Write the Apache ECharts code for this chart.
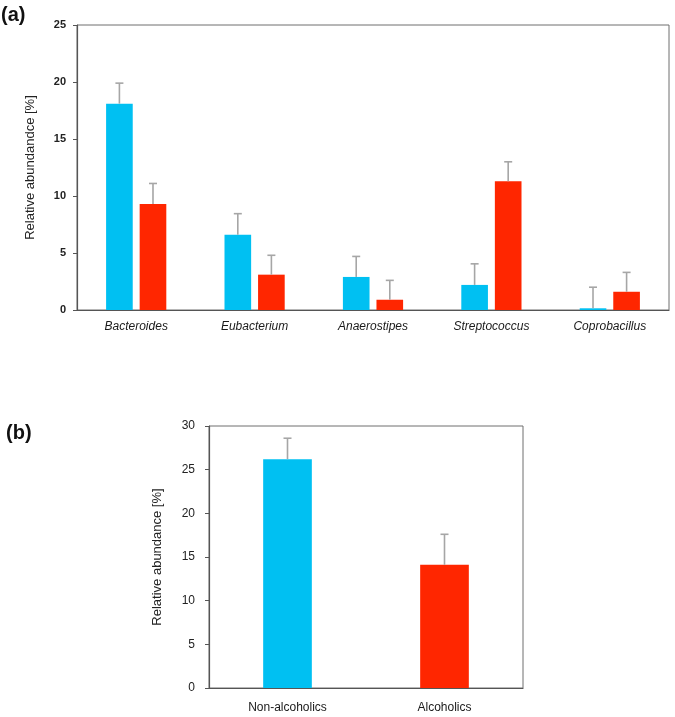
<!DOCTYPE html>
<html>
<head>
<meta charset="utf-8">
<script src="https://cdn.jsdelivr.net/npm/echarts@6/dist/echarts.min.js"></script>
<style>html,body{margin:0;padding:0;background:#fff}#c{width:675px;height:717px}</style>
</head>
<body>
<div id="c"></div>
<script>
// Panel (a)
const genera = ['Bacteroides', 'Eubacterium', 'Anaerostipes', 'Streptococcus', 'Coprobacillus'];
const nonAlcA = [18.1, 6.6, 2.9, 2.2, 0.15];
const nonAlcAErr = [1.8, 1.85, 1.8, 1.85, 1.85];
const alcA = [9.3, 3.1, 0.9, 11.3, 1.6];
const alcAErr = [1.8, 1.7, 1.7, 1.7, 1.7];
const yTicksA = [0, 5, 10, 15, 20, 25];
// Panel (b)
const groupsB = ['Non-alcoholics', 'Alcoholics'];
const valuesB = [26.2, 14.1];
const errB = [2.4, 3.5];
const yTicksB = [0, 5, 10, 15, 20, 25, 30];

const BLUE = '#00c0f2';
const RED = '#ff2600';
const FONT = 'Liberation Sans, Arial, sans-serif';

function errSeries(xi, yi, vals, errs, offsetFrac) {
  return {
    type: 'custom',
    xAxisIndex: xi, yAxisIndex: yi,
    z: 5,
    data: vals.map((v, i) => [i, v, errs[i]]),
    encode: { x: 0, y: 1 },
    renderItem: function (params, api) {
      const i = api.value(0), v = api.value(1), e = api.value(2);
      const band = api.size([1, 0])[0];
      const base = api.coord([i, v]);
      const top = api.coord([i, v + e]);
      const x = base[0] + offsetFrac * band;
      const style = { stroke: '#a6a6a6', lineWidth: 1.6 };
      return {
        type: 'group',
        children: [
          { type: 'line', shape: { x1: x, y1: base[1], x2: x, y2: top[1] }, style: style },
          { type: 'line', shape: { x1: x - 4, y1: top[1], x2: x + 4, y2: top[1] }, style: style }
        ]
      };
    }
  };
}

const chart = echarts.init(document.getElementById('c'), null, { renderer: 'canvas' });
const yA = yTicksA[yTicksA.length - 1];
const yB = yTicksB[yTicksB.length - 1];
const option = {
  animation: false,
  textStyle: { fontFamily: FONT },
  graphic: [
    { type: 'text', left: 1, top: 5, style: { text: '(a)', font: 'bold 20px ' + FONT, fill: '#111' } },
    { type: 'text', left: 6, top: 423, style: { text: '(b)', font: 'bold 20px ' + FONT, fill: '#111' } }
  ],
  grid: [
    { left: 77, top: 25, width: 592, height: 285, show: true, borderColor: '#6e6e6e', borderWidth: 1 },
    { left: 209, top: 426, width: 314, height: 262, show: true, borderColor: '#6e6e6e', borderWidth: 1 }
  ],
  xAxis: [
    {
      type: 'category', gridIndex: 0, data: genera,
      axisTick: { show: false },
      axisLine: { lineStyle: { color: '#555', width: 1.2 } },
      axisLabel: { fontStyle: 'italic', fontSize: 12, color: '#1a1a1a', margin: 11, fontFamily: FONT }
    },
    {
      type: 'category', gridIndex: 1, data: groupsB,
      axisTick: { show: false },
      axisLine: { lineStyle: { color: '#555', width: 1.2 } },
      axisLabel: { fontSize: 12, color: '#1a1a1a', margin: 14, fontFamily: FONT }
    }
  ],
  yAxis: [
    {
      type: 'value', gridIndex: 0, min: 0, max: yA, interval: 5,
      splitLine: { show: false },
      axisLine: { show: true, lineStyle: { color: '#555', width: 1.2 } },
      axisTick: { show: true, length: 4, lineStyle: { color: '#555' } },
      axisLabel: { fontSize: 11, fontWeight: 'bold', color: '#222', margin: 11, fontFamily: FONT },
      name: 'Relative abundandce [%]', nameLocation: 'middle', nameGap: 40,
      nameTextStyle: { fontSize: 13, color: '#222', fontFamily: FONT }
    },
    {
      type: 'value', gridIndex: 1, min: 0, max: yB, interval: 5,
      splitLine: { show: false },
      axisLine: { show: true, lineStyle: { color: '#555', width: 1.2 } },
      axisTick: { show: true, length: 4, lineStyle: { color: '#555' } },
      axisLabel: { fontSize: 12, color: '#222', margin: 14, fontFamily: FONT },
      name: 'Relative abundance [%]', nameLocation: 'middle', nameGap: 45,
      nameTextStyle: { fontSize: 13, color: '#222', fontFamily: FONT }
    }
  ],
  series: [
    {
      type: 'bar', xAxisIndex: 0, yAxisIndex: 0, data: nonAlcA,
      barWidth: '22.5%', barGap: '26%', itemStyle: { color: BLUE }
    },
    {
      type: 'bar', xAxisIndex: 0, yAxisIndex: 0, data: alcA,
      barWidth: '22.5%', barGap: '26%', itemStyle: { color: RED }
    },
    errSeries(0, 0, nonAlcA, nonAlcAErr, -0.1418),
    errSeries(0, 0, alcA, alcAErr, 0.1418),
    {
      type: 'bar', xAxisIndex: 1, yAxisIndex: 1,
      data: valuesB.map((v, i) => ({ value: v, itemStyle: { color: i === 0 ? BLUE : RED } })),
      barWidth: '31%'
    },
    errSeries(1, 1, valuesB, errB, 0)
  ]
};
chart.setOption(option);
</script>
</body>
</html>
